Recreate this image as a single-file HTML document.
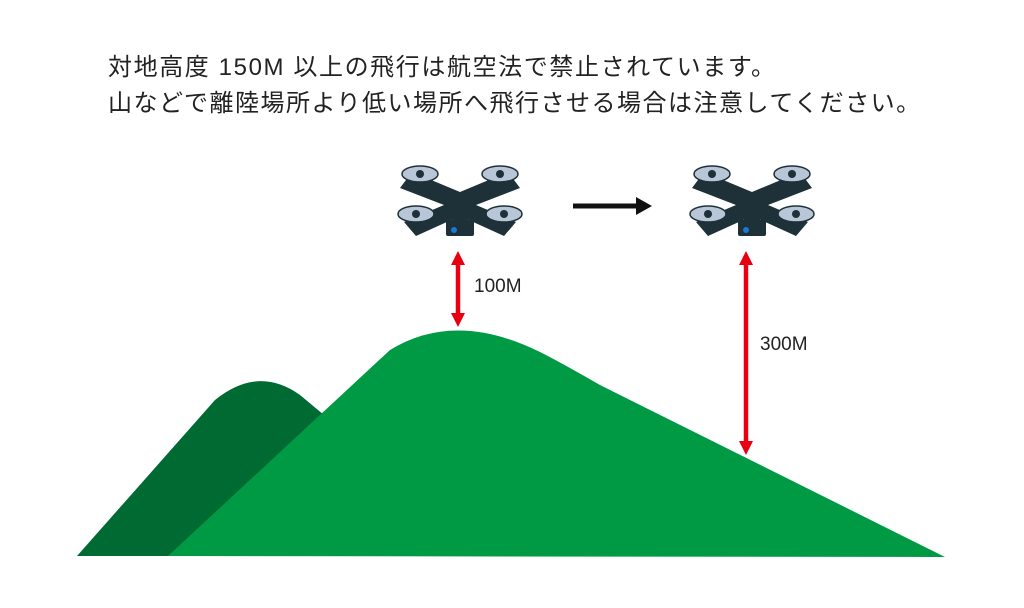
<!DOCTYPE html>
<html><head><meta charset="utf-8"><style>
html,body{margin:0;padding:0;background:#fff;}
body{width:1024px;height:608px;position:relative;overflow:hidden;font-family:"Liberation Sans","Noto Sans CJK JP",sans-serif;}
.t{position:absolute;left:108px;font-size:24px;color:#222;white-space:nowrap;line-height:1;}
.l{position:absolute;font-size:19px;color:#222;font-family:"Liberation Sans",sans-serif;}
</style></head><body>
<div class="t" style="top:56px;letter-spacing:1.6px">対地高度 150M 以上の飛行は航空法で禁止されています。</div>
<div class="t" style="top:92px;letter-spacing:1.5px">山などで離陸場所より低い場所へ飛行させる場合は注意してください。</div>
<svg width="1024" height="608" style="position:absolute;left:0;top:0">
<defs>
<g id="drone">
 <path d="M-48,-30 L0,-10 L48,-30 L60,-14 L16,3 L56,20 L44,34 L0,14 L-44,34 L-56,20 L-16,3 L-60,-14Z" fill="#1e3038"/>
 <rect x="-8" y="8" width="16" height="12" fill="#1e3038"/>
 <rect x="-14" y="18" width="28" height="16" rx="2" fill="#1e3038"/>
 <circle cx="-6" cy="28" r="3" fill="#1a7ad0"/>
 <g fill="#b8c6d8" stroke="#1e3038" stroke-width="1.5">
  <ellipse cx="-40" cy="-28" rx="18" ry="8"/><ellipse cx="40" cy="-28" rx="18" ry="8"/>
  <ellipse cx="-44" cy="12" rx="18" ry="8"/><ellipse cx="44" cy="12" rx="18" ry="8"/>
 </g>
 <g fill="#1e3038"><circle cx="-40" cy="-28" r="4"/><circle cx="40" cy="-28" r="4"/><circle cx="-44" cy="12" r="4"/><circle cx="44" cy="12" r="4"/></g>
</g>
<marker id="ar" markerWidth="14" markerHeight="14" refX="7" refY="7" orient="auto-start-reverse" markerUnits="userSpaceOnUse"><path d="M0,0 L14,7 L0,14Z" fill="#e60012"/></marker>
</defs>
<path d="M77,556 L215,400 Q258,365 300,395 L330,420 L300,556Z" fill="#006a33"/>
<path d="M168,556 L390,350 Q455,310 540,352 Q560,362 600,385 L945,557Z" fill="#009a44"/>
<use href="#drone" x="460" y="202"/>
<use href="#drone" x="752" y="202"/>
<line x1="573" y1="206" x2="638" y2="206" stroke="#111" stroke-width="5"/>
<path d="M636,197 L652,206 L636,215Z" fill="#111"/>
<line x1="458" y1="258" x2="458" y2="320" stroke="#e60012" stroke-width="4.5" marker-start="url(#ar)" marker-end="url(#ar)"/>
<line x1="746" y1="258" x2="746" y2="448" stroke="#e60012" stroke-width="4.5" marker-start="url(#ar)" marker-end="url(#ar)"/>
</svg>
<div class="l" style="left:474px;top:276px">100M</div>
<div class="l" style="left:760px;top:334px">300M</div>
</body></html>
